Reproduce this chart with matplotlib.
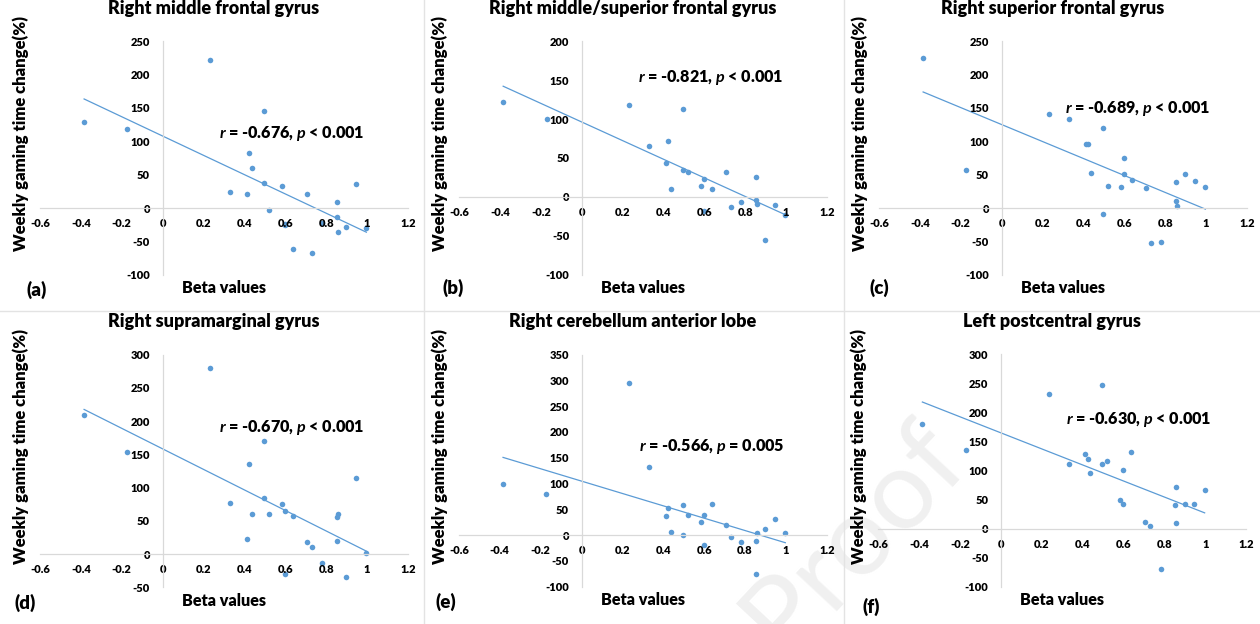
import numpy as np
import matplotlib
matplotlib.use("Agg")
import matplotlib.pyplot as plt
from matplotlib.lines import Line2D

plt.rcParams["font.family"] = ["Lato", "DejaVu Sans"]
plt.rcParams["font.weight"] = "bold"
plt.rcParams["axes.unicode_minus"] = False
plt.rcParams["mathtext.fontset"] = "custom"
plt.rcParams["mathtext.it"] = "Lato:italic:bold"
plt.rcParams["mathtext.rm"] = "Lato:bold"

# beta values (shared x positions across panels)
beta = [-0.384, -0.172, 0.234, 0.331, 0.414, 0.424, 0.436, 0.497, 0.497, 0.519,
        0.584, 0.598, 0.598, 0.638, 0.707, 0.729, 0.782, 0.852, 0.855, 0.858,
        0.899, 0.945, 0.997]

y_a = [128.5, 118.5, 222.5, 23.5, 21.5, 82, 60, 145, 37, -2.5, 32.5, -25.5, -24,
       -61.5, 21.5, -68, -22, 9.5, -14, -36, -28.5, 36, -30]
y_b = [122.5, 100.6, 118.6, 65.5, 43.3, 72.4, 9.9, 113, 34.3, 31.7, 13.7, 23.6,
       -17.6, 9.9, 31.7, -12.8, -6, 25.7, -3.9, -9, -55.2, -9.9, -23.1]
y_c = [224.5, 57, 141, 133, 95.5, 96.5, 52.5, 120, -9.5, 33.5, 31.5, 75.5, 51.5,
       41.5, 30.5, -52.5, -51.5, 38.5, 10.5, 3.5, 50.5, 40.5, 31.5]
y_d = [210, 154.5, 279.5, 77.8, 23.6, 136, 60.2, 171, 85.3, 61.2, 75.8, 64.7,
       -30.1, 58.2, 18.1, 11.5, -12.5, 56.2, 20.6, 60.2, -33.6, 114.9, 1.5]
y_e = [99.3, 79.3, 295.3, 131.5, 36.1, 53.5, 5.2, 58, 0.6, 39.3, 25.1, 38, -18.7,
       60.6, 19.3, -3.9, -14.2, -11, -74.8, 3.9, 12.2, 30.9, 3.9]
y_f = [180.9, 135.1, 231.3, 111, 128.8, 119.6, 96.7, 247.9, 111, 116.2, 49.2,
       100.7, 41.8, 132.8, 11.4, 4.6, -69.8, 40.6, 9.2, 72.1, 41.8, 42.9, 67]

titles = ["Right middle frontal gyrus", "Right middle/superior frontal gyrus",
          "Right superior frontal gyrus", "Right supramarginal gyrus",
          "Right cerebellum anterior lobe", "Left postcentral gyrus"]
stats = [r"$r$ = -0.676, $p$ < 0.001", r"$r$ = -0.821, $p$ < 0.001",
         r"$r$ = -0.689, $p$ < 0.001", r"$r$ = -0.670, $p$ < 0.001",
         r"$r$ = -0.566, $p$ = 0.005", r"$r$ = -0.630, $p$ < 0.001"]
letters = ["(a)", "(b)", "(c)", "(d)", "(e)", "(f)"]
ylims = [(-100, 250), (-100, 200), (-100, 250), (-50, 300), (-100, 350), (-100, 300)]
xticks = [-0.6, -0.4, -0.2, 0, 0.2, 0.4, 0.6, 0.8, 1, 1.2]
xticklabels = ["-0.6", "-0.4", "-0.2", "0", "0.2", "0.4", "0.6", "0.8", "1", "1.2"]
ys = [y_a, y_b, y_c, y_d, y_e, y_f]

# layout
rects = [(0.0317, 0.5598, 0.292, 0.374), (0.3643, 0.5598, 0.292, 0.374),
         (0.6976, 0.5598, 0.292, 0.374), (0.0317, 0.0585, 0.292, 0.373),
         (0.3642, 0.0598, 0.292, 0.372), (0.697, 0.0593, 0.292, 0.373)]
stat_pos = [(0.278, 112), (0.278, 153.7), (0.308, 149.5), (0.275, 190.7),
            (0.28, 172), (0.319, 188.3)]
letter_pos = [(-0.01, -0.066), (-0.016, -0.057), (0.0, -0.057),
              (-0.04, -0.068), (-0.035, -0.066), (-0.02, -0.086)]

blue = "#5b9bd5"
grid = "#d9d9d9"

fig = plt.figure(figsize=(12.6, 6.24), dpi=100)

fig.text(0.678, 0.14, "Proof", rotation=47, fontsize=80, color="#f0f0f0",
         ha="center", va="center", fontweight="normal", zorder=-1)

for x in [424 / 1260, 844 / 1260]:
    fig.add_artist(Line2D([x, x], [0, 1], color="#e3e3e3", lw=1))
fig.add_artist(Line2D([0, 1], [0.5016, 0.5016], color="#e3e3e3", lw=1))

for i in range(6):
    ax = fig.add_axes(rects[i])
    ax.patch.set_alpha(0)
    x = np.array(beta)
    y = np.array(ys[i])
    ax.scatter(x, y, s=16, color=blue, linewidths=0, zorder=1)
    k, b0 = np.polyfit(x, y, 1)
    xx = np.array([x.min(), x.max()])
    ax.plot(xx, k * xx + b0, color=blue, lw=0.9, zorder=1)

    ax.set_xlim(-0.6, 1.2)
    ax.set_ylim(*ylims[i])
    ax.set_xticks(xticks)
    ax.set_xticklabels(xticklabels)
    ax.set_yticks(np.arange(ylims[i][0], ylims[i][1] + 1, 50))
    for s in ["top", "right"]:
        ax.spines[s].set_visible(False)
    ax.spines["left"].set_position(("data", 0))
    ax.spines["bottom"].set_position(("data", 0))
    for s in ["left", "bottom"]:
        ax.spines[s].set_color(grid)
        ax.spines[s].set_linewidth(0.9)
    ax.tick_params(axis="x", length=0, pad=7, labelsize=8, labelcolor="black")
    ax.tick_params(axis="y", length=0, pad=9, labelsize=8, labelcolor="black")
    for lab in ax.get_xticklabels() + ax.get_yticklabels():
        lab.set_fontweight("heavy")

    ax.set_title(titles[i], fontsize=13, fontweight="heavy", x=0.472, y=1.107,
                 va="center")
    ax.set_ylabel("Weekly gaming time change(%)", fontsize=12, fontweight="heavy")
    ax.yaxis.set_label_coords(-0.053, 0.605)
    ax.yaxis.label.set_va("center")
    ax.set_xlabel("Beta values", fontsize=11.6, fontweight="heavy")
    ax.xaxis.set_label_coords(0.5, -0.058)
    ax.xaxis.label.set_va("center")

    ax.text(stat_pos[i][0], stat_pos[i][1], stats[i], fontsize=11.6,
            fontweight="heavy", ha="left", va="center")
    ax.text(letter_pos[i][0], letter_pos[i][1], letters[i], transform=ax.transAxes,
            fontsize=13.5, fontweight="heavy", ha="center", va="center")

plt.savefig("out.png", dpi=100)
